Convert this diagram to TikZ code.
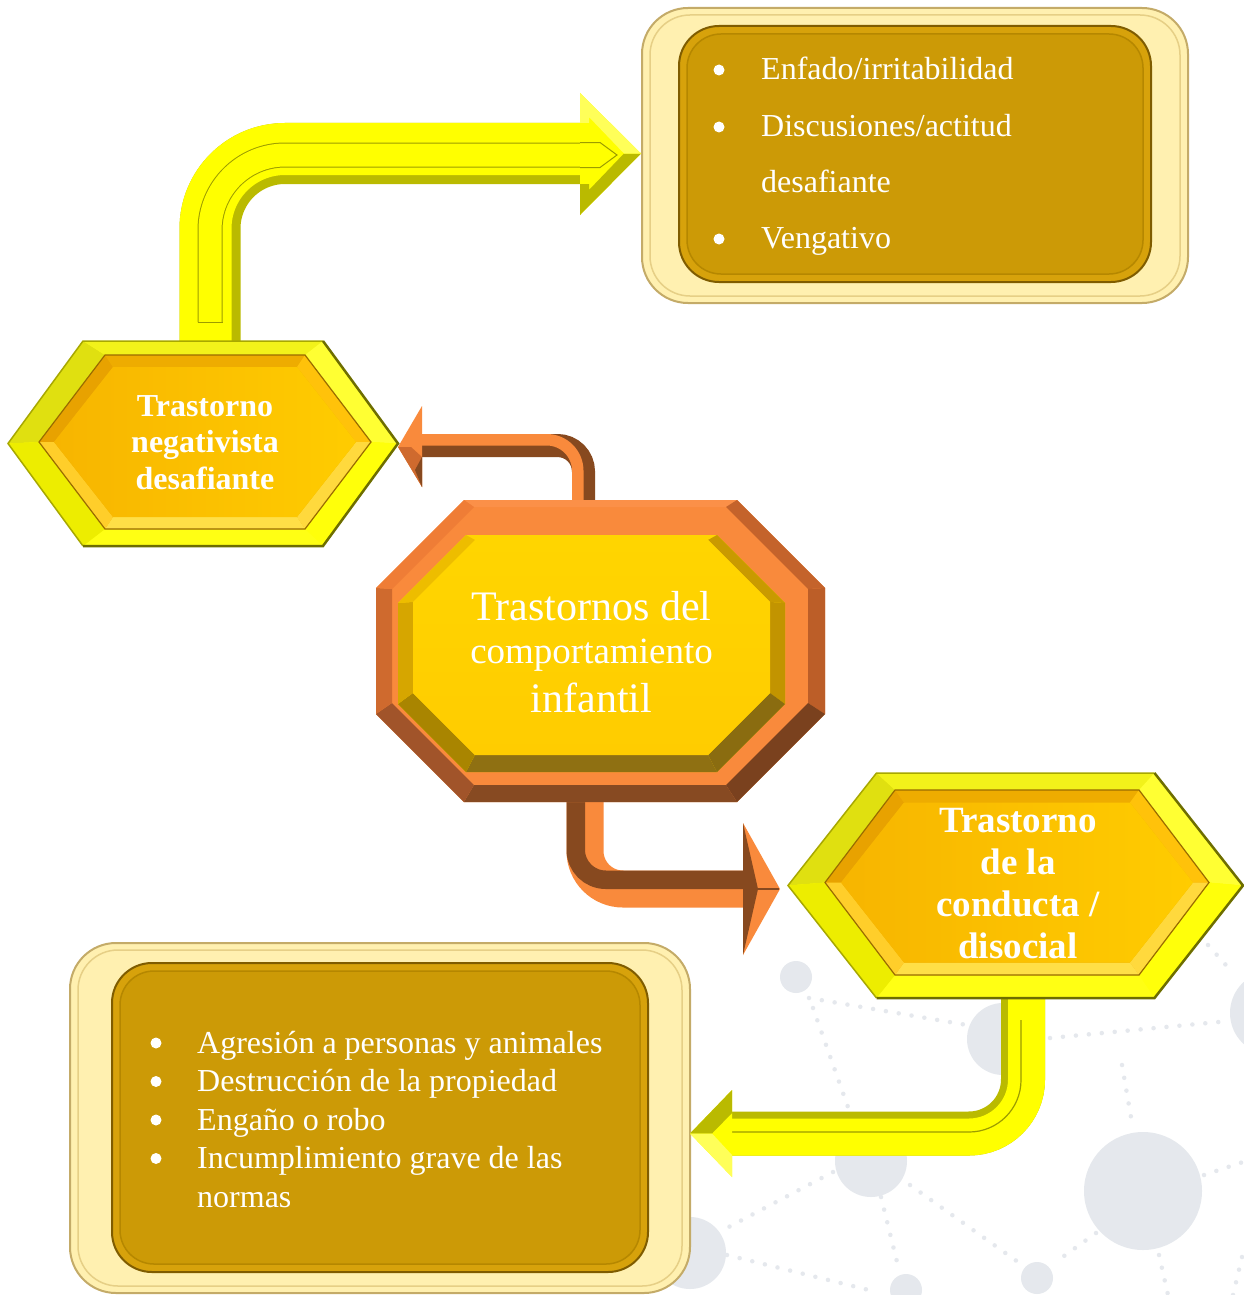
\documentclass[tikz,border=0pt]{standalone}
\usepackage{fontspec}
\setmainfont{Liberation Serif}
\usetikzlibrary{calc}
\definecolor{yel}{HTML}{FFFF00}
\definecolor{ydark}{HTML}{BABA00}
\definecolor{yline}{HTML}{9C9C00}
\definecolor{ylight}{HTML}{FFFF59}
\definecolor{oorange}{HTML}{F98A3C}
\definecolor{obrown}{HTML}{87491F}
\definecolor{cream}{HTML}{FFF0B0}
\definecolor{creamedge}{HTML}{C4AB68}
\definecolor{creamline}{HTML}{E6CF86}
\definecolor{goldrim}{HTML}{D7A20B}
\definecolor{goldedge}{HTML}{7F5C00}
\definecolor{goldbox}{HTML}{CC9A06}
\definecolor{goldin}{HTML}{B58700}
\definecolor{bggrey}{HTML}{E5E8ED}
\definecolor{hrTL}{HTML}{E0E010}
\definecolor{hrT}{HTML}{F2F21A}
\definecolor{hrTR}{HTML}{FFFF33}
\definecolor{hrBR}{HTML}{FFFF0A}
\definecolor{hrB}{HTML}{FFFF14}
\definecolor{hrBL}{HTML}{EDED00}
\definecolor{hexedge}{HTML}{6E6E00}
\definecolor{hexedgeb}{HTML}{A8A800}
\definecolor{gbTL}{HTML}{E8A200}
\definecolor{gbT}{HTML}{EEAC00}
\definecolor{gbTR}{HTML}{FFC20A}
\definecolor{gbBR}{HTML}{FFD93D}
\definecolor{gbB}{HTML}{FFDF47}
\definecolor{gbBL}{HTML}{FFCE2A}
\definecolor{gfaceA}{HTML}{F7B500}
\definecolor{gfaceB}{HTML}{FFCC00}
\definecolor{gline}{HTML}{9A6C00}
\definecolor{ooT}{HTML}{FB9048}
\definecolor{ooTR}{HTML}{C4632B}
\definecolor{ooR}{HTML}{BC5E28}
\definecolor{ooBR}{HTML}{7A411E}
\definecolor{ooB}{HTML}{874A22}
\definecolor{ooBL}{HTML}{A1542A}
\definecolor{ooL}{HTML}{CF6A2E}
\definecolor{ooTL}{HTML}{EF7D36}
\definecolor{oiT}{HTML}{FFD500}
\definecolor{oiTR}{HTML}{C99A00}
\definecolor{oiR}{HTML}{C29400}
\definecolor{oiBR}{HTML}{8A6C10}
\definecolor{oiB}{HTML}{8F7012}
\definecolor{oiBL}{HTML}{A98500}
\definecolor{oiL}{HTML}{D6A600}
\definecolor{oiTL}{HTML}{EDBD00}
\definecolor{oface}{HTML}{FFCC00}

% hexagon coordinates: name, cx, cy, half width to point, half top edge, half height
\newcommand\defhex[6]{%
  \coordinate (#1-L)  at ({#2-#4},#3);
  \coordinate (#1-TL) at ({#2-#5},{#3-#6});
  \coordinate (#1-TR) at ({#2+#5},{#3-#6});
  \coordinate (#1-R)  at ({#2+#4},#3);
  \coordinate (#1-BR) at ({#2+#5},{#3+#6});
  \coordinate (#1-BL) at ({#2-#5},{#3+#6});}
\newcommand\hexpath[1]{(#1-L)--(#1-TL)--(#1-TR)--(#1-R)--(#1-BR)--(#1-BL)--cycle}
\newcommand\quadf[5]{\fill[fill=#1] (#2)--(#3)--(#4)--(#5)--cycle;}
\newcommand\hexfacets[8]{%
  \quadf{#3}{#1-L}{#1-TL}{#2-TL}{#2-L}
  \quadf{#4}{#1-TL}{#1-TR}{#2-TR}{#2-TL}
  \quadf{#5}{#1-TR}{#1-R}{#2-R}{#2-TR}
  \quadf{#6}{#1-R}{#1-BR}{#2-BR}{#2-R}
  \quadf{#7}{#1-BR}{#1-BL}{#2-BL}{#2-BR}
  \quadf{#8}{#1-BL}{#1-L}{#2-L}{#2-BL}}
% octagon coordinates: name, left, top, right, bottom, cut
\newcommand\defoct[6]{%
  \coordinate (#1-1) at ({#2+#6},#3);
  \coordinate (#1-2) at ({#4-#6},#3);
  \coordinate (#1-3) at (#4,{#3+#6});
  \coordinate (#1-4) at (#4,{#5-#6});
  \coordinate (#1-5) at ({#4-#6},#5);
  \coordinate (#1-6) at ({#2+#6},#5);
  \coordinate (#1-7) at (#2,{#5-#6});
  \coordinate (#1-8) at (#2,{#3+#6});}
\newcommand\octpath[1]{(#1-1)--(#1-2)--(#1-3)--(#1-4)--(#1-5)--(#1-6)--(#1-7)--(#1-8)--cycle}
\newcommand\octfacets[3]{\foreach \ii/\jj/\cc in {#3}{\fill[fill=\cc] (#1-\ii)--(#1-\jj)--(#2-\jj)--(#2-\ii)--cycle;}}

\begin{document}
\begin{tikzpicture}[x=1pt,y=-1pt,
  bgdot/.style={draw=bggrey, line width=4.5pt, line cap=round, dash pattern=on 0pt off 13pt},
  bgcirc/.style={fill=bggrey},
  boxout/.style={fill=cream, draw=creamedge, line width=2pt, rounded corners=46pt},
  boxline/.style={draw=creamline, line width=1.5pt, rounded corners=40pt},
  boxin/.style={fill=goldrim, draw=goldedge, line width=2pt, rounded corners=40pt},
  boxface/.style={fill=goldbox, draw=goldin, line width=1.5pt, rounded corners=34pt},
  bulletdot/.style={fill=white},
  wtext/.style={inner sep=0pt, text=white}]
\useasboundingbox (0,0) rectangle (1243,1295);
\fill[white] (0,0) rectangle (1243,1295);

% ---------- background network ----------
\draw[bgdot] (809,998) -- (967,1025);
\draw[bgdot] (813,1008) -- (849,1110);
\draw[bgdot] (1050,1038) -- (1229,1021);
\draw[bgdot] (1122,1065) -- (1132,1123);
\draw[bgdot] (833,1172) -- (723,1230);
\draw[bgdot] (910,1185) -- (1018,1262);
\draw[bgdot] (881,1197) -- (899,1270);
\draw[bgdot] (1204,1175) -- (1243,1162);
\draw[bgdot] (727,1255) -- (877,1292);
\draw[bgdot] (1159,1255) -- (1168,1295);
\draw[bgdot] (1208,945) -- (1233,973);
\draw[bgdot] (1242,1257) -- (1233,1295);
\draw[bgdot] (1096,1233) -- (1064,1256);
\fill[bgcirc] (796,977) circle[radius=16pt];
\fill[bgcirc] (1003,1039) circle[radius=36pt];
\fill[bgcirc] (871,1161) circle[radius=36pt];
\fill[bgcirc] (1143,1191) circle[radius=59pt];
\fill[bgcirc] (1037,1278) circle[radius=16pt];
\fill[bgcirc] (906,1290) circle[radius=16pt];
\fill[bgcirc] (690,1253) circle[radius=36pt];
\fill[bgcirc] (1272,1013) circle[radius=42pt];

% ---------- boxes ----------
\path[boxout] (642,8) rectangle (1188,303);
\path[boxline] (650,15) rectangle (1180,296);
\path[boxin] (679,26) rectangle (1151,282);
\path[boxface] (687,34) rectangle (1143,274);

\path[boxout] (70,943) rectangle (690,1293);
\path[boxline] (78,950) rectangle (682,1286);
\path[boxin] (112,963) rectangle (648,1272);
\path[boxface] (120,971) rectangle (640,1264);

% ---------- connectors ----------
% yellow arrow: hexagon (left) -> top box
\coordinate (a1s) at (210,341);
\coordinate (a1e) at (581,153.5);
\draw[line width=61pt, ydark, rounded corners=75pt] (a1s) |- (a1e);
\draw[line width=52pt, yel, rounded corners=79.5pt] ($(a1s)+(-4.5,0)$) |- ($(a1e)+(0,-4.5)$);
\draw[line width=25pt, yline, rounded corners=75pt] (210,322) |- (580,155);
\draw[line width=23pt, yel, rounded corners=75pt] (210,322) |- (580,155);
\draw[yline, line width=1pt] (197.5,322) -- (222.5,322);
\fill[yel] (580,93) -- (641,153.5) -- (580,215) -- cycle;
\fill[ydark] (580,215) -- (641,153.5) -- (624,153.5) -- (589,190) -- (589,184) -- (580,184) -- cycle;
\fill[ylight] (580,93) -- (641,153.5) -- (624,153.5) -- (589,117) -- (589,123) -- (580,123) -- cycle;
\draw[yline, line width=1pt] (580,142.5) -- (600,142.5) -- (617,155) -- (600,167.5) -- (580,167.5);

% orange arrow: octagon -> left hexagon
\coordinate (a2s) at (583.5,500);
\coordinate (a2e) at (421,445.5);
\draw[line width=23pt, obrown, rounded corners=26pt] (a2s) |- (a2e);
\draw[line width=11.5pt, oorange, rounded corners=31pt] ($(a2s)+(-5.75,0)$) |- ($(a2e)+(0,-5.75)$);
\fill[oorange] (422,406) -- (398,447) -- (422,487) -- cycle;
\fill[ooL] (398,447) -- (422,487) -- (422,457) -- (411,447) -- cycle;
\fill[obrown] (422,457) -- (422,487) -- (415,470) -- cycle;

% orange arrow: octagon -> right hexagon
\coordinate (a3s) at (585,802);
\coordinate (a3e) at (744,889);
\draw[line width=37pt, oorange, rounded corners=38pt] (a3s) |- (a3e);
\draw[line width=18.5pt, obrown, rounded corners=30pt] ($(a3s)+(-9.25,0)$) |- ($(a3e)+(0,-9.25)$);
\fill[oorange] (743,823) -- (780,889) -- (743,955) -- cycle;
\fill[obrown] (743,823) -- (758,889) -- (743,955) -- cycle;
\draw[obrown, line width=1.5pt] (758,889) -- (779,889);

% yellow arrow: right hexagon -> bottom box
\coordinate (a4s) at (1023,998);
\coordinate (a4e) at (731,1133.5);
\draw[line width=44pt, ydark, rounded corners=54pt] (a4s) |- (a4e);
\draw[line width=37pt, yel, rounded corners=57.5pt] ($(a4s)+(3.5,0)$) |- ($(a4e)+(0,3.5)$);
\draw[yline, line width=1.2pt, rounded corners=52pt] (1021,1020) |- (716,1132);
\fill[yel] (732,1090) -- (690,1133.5) -- (732,1177) -- cycle;
\fill[ydark] (732,1090) -- (690,1133.5) -- (712,1133.5) -- (732,1113) -- cycle;
\fill[ylight] (732,1177) -- (690,1133.5) -- (712,1133.5) -- (732,1155) -- cycle;

% ---------- left hexagon ----------
\defhex{hLo}{203}{443.5}{195}{120}{102.5}
\defhex{hLi}{205}{442}{166}{100}{87}
\defhex{hLf}{205}{442}{151}{92}{75}
\fill[yel] \hexpath{hLo};
\hexfacets{hLo}{hLi}{hrTL}{hrT}{hrTR}{hrBR}{hrB}{hrBL}
\draw[hexedgeb, line width=1.5pt] (hLo-BL) -- (hLo-L) -- (hLo-TL) -- (hLo-TR);
\draw[hexedge, line width=2.5pt] (hLo-TR) -- (hLo-R) -- (hLo-BR) -- (hLo-BL);
\fill[gbT] \hexpath{hLi};
\hexfacets{hLi}{hLf}{gbTL}{gbT}{gbTR}{gbBR}{gbB}{gbBL}
\shade[left color=gfaceA, right color=gfaceB] \hexpath{hLf};
\draw[gline, line width=1.2pt] \hexpath{hLi};

% ---------- right hexagon ----------
\defhex{hRo}{1015.5}{885.5}{227.5}{139}{112.5}
\defhex{hRi}{1017}{882.5}{192}{122}{92.5}
\defhex{hRf}{1017}{882.5}{176}{113}{80}
\fill[yel] \hexpath{hRo};
\hexfacets{hRo}{hRi}{hrTL}{hrT}{hrTR}{hrBR}{hrB}{hrBL}
\draw[hexedgeb, line width=1.5pt] (hRo-BL) -- (hRo-L) -- (hRo-TL) -- (hRo-TR);
\draw[hexedge, line width=2.5pt] (hRo-TR) -- (hRo-R) -- (hRo-BR) -- (hRo-BL);
\fill[gbT] \hexpath{hRi};
\hexfacets{hRi}{hRf}{gbTL}{gbT}{gbTR}{gbBR}{gbB}{gbBL}
\shade[left color=gfaceA, right color=gfaceB] \hexpath{hRf};
\draw[gline, line width=1.2pt] \hexpath{hRi};

% ---------- central octagon ----------
\defoct{oO}{376}{500}{825}{802}{88}
\defoct{oB}{392}{507}{808}{785}{82}
\defoct{oI}{398}{535}{785}{772}{68}
\defoct{oF}{413}{540}{770}{755}{62}
\fill[oorange] \octpath{oO};
\octfacets{oO}{oB}{1/2/ooT,2/3/ooTR,3/4/ooR,4/5/ooBR,5/6/ooB,6/7/ooBL,7/8/ooL,8/1/ooTL}
\fill[oface] \octpath{oI};
\octfacets{oI}{oF}{1/2/oiT,2/3/oiTR,3/4/oiR,4/5/oiBR,5/6/oiB,6/7/oiBL,7/8/oiL,8/1/oiTL}
\shade[top color=oiT, bottom color=oface] \octpath{oF};

% ---------- bullets ----------
\foreach \by in {70,127,239} {\fill[bulletdot] (719,\by) circle[radius=5.5pt];}
\foreach \by in {1043,1081.5,1120,1158.5} {\fill[bulletdot] (156,\by) circle[radius=5.5pt];}

% ---------- texts ----------
\node[wtext, anchor=base] (octtxt) at (591.5,620)
  {\fontsize{42}{43}\selectfont\begin{tabular}[t]{@{}c@{}}Trastornos del\\{\fontsize{37}{43}\selectfont comportamiento}\\[6pt]infantil\end{tabular}};
\node[wtext, anchor=base, font=\bfseries] (hLtxt) at (205,416)
  {\fontsize{32}{36.5}\selectfont\begin{tabular}[t]{@{}c@{}}Trastorno\\negativista\\desafiante\end{tabular}};
\node[wtext, anchor=base, font=\bfseries] (hRtxt) at (1018,832)
  {\fontsize{37}{42}\selectfont\begin{tabular}[t]{@{}c@{}}Trastorno\\de la\\conducta /\\disocial\end{tabular}};
\node[wtext, anchor=base west] (bTtxt) at (761,80)
  {\fontsize{32}{56.3}\selectfont\begin{tabular}[t]{@{}l@{}}Enfado/irritabilidad\\Discusiones/actitud\\desafiante\\Vengativo\end{tabular}};
\node[wtext, anchor=base west] (bBtxt) at (197,1053)
  {\fontsize{32}{38.5}\selectfont\begin{tabular}[t]{@{}l@{}}Agresión a personas y animales\\Destrucción de la propiedad\\Engaño o robo\\Incumplimiento grave de las\\normas\end{tabular}};
\end{tikzpicture}
\end{document}
